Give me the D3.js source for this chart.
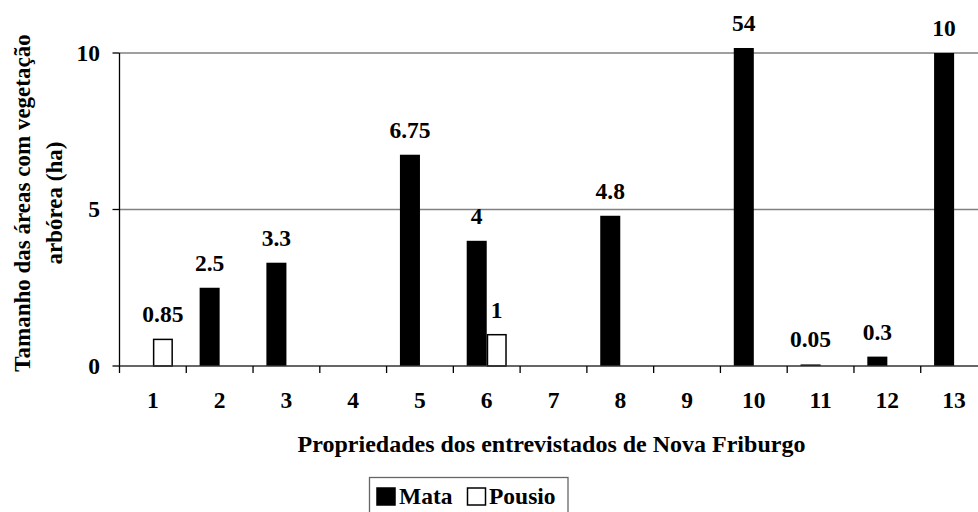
<!DOCTYPE html>
<html><head><meta charset="utf-8">
<script src="https://cdn.jsdelivr.net/npm/d3@7"></script>
<style>
html,body{margin:0;padding:0;background:#fff;}
</style></head>
<body><svg id="chart" width="978" height="512"></svg>
<script>
const categories = ["1","2","3","4","5","6","7","8","9","10","11","12","13"];
const mataValues = [null, 2.5, 3.3, null, 6.75, 4, null, 4.8, null, 54, 0.05, 0.3, 10];
const pousioValues = [0.85, null, null, null, null, 1, null, null, null, null, null, null, null];
const seriesNames = ["Mata", "Pousio"];
const yTicks = [0, 5, 10];
const yTitleLines = ["Tamanho das áreas com vegetação", "arbórea (ha)"];
const xTitle = "Propriedades dos entrevistados de Nova Friburgo";

(function () {
const svg = d3.select("#chart");
const W = 978, H = 512;
const plotLeft = 119.5, plotRight = 987.5, plotTop = 53, plotBottom = 366;
const visibleMax = 10.16;
const fs = 23.5;

const x = d3.scaleBand().domain(categories).range([plotLeft, plotRight]).padding(0);
const bw = x.bandwidth();
const x1 = d3.scaleBand().domain(seriesNames).range([bw * 0.2, bw * 0.8]).padding(0);
const y = d3.scaleLinear().domain([0, 10]).range([plotBottom, plotTop]);

// gridlines
svg.append("g").selectAll("line").data(yTicks.filter(d => d > 0)).join("line")
  .attr("x1", plotLeft).attr("x2", W)
  .attr("y1", d => y(d)).attr("y2", d => y(d))
  .attr("stroke", "#808080").attr("stroke-width", 1.3);

// data
const rows = [];
categories.forEach((c, i) => {
  if (mataValues[i] != null) rows.push({cat: c, s: "Mata", v: mataValues[i]});
  if (pousioValues[i] != null) rows.push({cat: c, s: "Pousio", v: pousioValues[i]});
});

const g = svg.append("g");
g.selectAll("rect").data(rows).join("rect")
  .attr("x", d => x(d.cat) + x1(d.s) + (d.s === "Pousio" ? 0.75 : 0))
  .attr("width", d => x1.bandwidth() - (d.s === "Pousio" ? 1.5 : 0))
  .attr("y", d => y(Math.min(d.v, visibleMax)))
  .attr("height", d => y(0) - y(Math.min(d.v, visibleMax)))
  .attr("fill", d => d.s === "Mata" ? "#000" : "#fff")
  .attr("stroke", d => d.s === "Mata" ? "none" : "#000")
  .attr("stroke-width", 1.5);

g.selectAll("text.lbl").data(rows).join("text").attr("class", "lbl")
  .attr("x", d => x(d.cat) + x1(d.s) + x1.bandwidth() / 2)
  .attr("y", d => y(Math.min(d.v, visibleMax)) - 17)
  .attr("text-anchor", "middle").attr("font-size", fs)
  .text(d => String(d.v));

// axes
const yAxis = svg.append("g");
yAxis.append("line").attr("x1", plotLeft).attr("x2", plotLeft).attr("y1", y(10)).attr("y2", y(0))
  .attr("stroke", "#000").attr("stroke-width", 1.3);
yAxis.selectAll("line.t").data(yTicks).join("line").attr("class", "t")
  .attr("x1", plotLeft - 7).attr("x2", plotLeft).attr("y1", d => y(d)).attr("y2", d => y(d))
  .attr("stroke", "#000").attr("stroke-width", 1.3);
yAxis.selectAll("text").data(yTicks).join("text")
  .attr("x", 100).attr("y", d => y(d)).attr("dy", "0.34em")
  .attr("text-anchor", "end").attr("font-size", fs).text(d => d);

const xAxis = svg.append("g");
xAxis.append("line").attr("x1", plotLeft).attr("x2", W).attr("y1", y(0)).attr("y2", y(0))
  .attr("stroke", "#333").attr("stroke-width", 1.3);
const bounds = categories.map(c => x(c));
xAxis.selectAll("line.t").data(bounds).join("line").attr("class", "t")
  .attr("x1", d => d).attr("x2", d => d).attr("y1", y(0)).attr("y2", y(0) + 7)
  .attr("stroke", "#000").attr("stroke-width", 1.3);
xAxis.selectAll("text").data(categories).join("text")
  .attr("x", d => x(d) + bw / 2).attr("y", 408)
  .attr("text-anchor", "middle").attr("font-size", fs).text(d => d);

// titles
svg.append("text").attr("x", (plotLeft + plotRight) / 2 - 2).attr("y", 452)
  .attr("text-anchor", "middle").attr("font-size", 24).text(xTitle);
const yt = svg.append("text").attr("transform", "translate(30,203) rotate(-90)")
  .attr("text-anchor", "middle").attr("font-size", 23);
yTitleLines.forEach((t, i) => {
  yt.append("tspan").attr("x", 0).attr("y", i * 32).text(t);
});

// legend
const lg = svg.append("g");
lg.append("rect").attr("x", 369.5).attr("y", 477.5).attr("width", 198.5).attr("height", 40)
  .attr("fill", "#fff").attr("stroke", "#666").attr("stroke-width", 1.3);
const legItems = [
  {name: seriesNames[0], sx: 377, tx: 399},
  {name: seriesNames[1], sx: 467.5, tx: 489}
];
lg.selectAll("rect.sw").data(legItems).join("rect").attr("class", "sw")
  .attr("x", d => d.sx).attr("y", 488).attr("width", 18).attr("height", 17)
  .attr("fill", d => d.name === "Mata" ? "#000" : "#fff")
  .attr("stroke", "#000").attr("stroke-width", 1.5);
lg.selectAll("text").data(legItems).join("text")
  .attr("x", d => d.tx).attr("y", 504).attr("font-size", fs).text(d => d.name);

svg.selectAll("text").attr("font-family", "Liberation Serif").attr("font-weight", "bold").attr("fill", "#000");
})();
</script></body></html>
